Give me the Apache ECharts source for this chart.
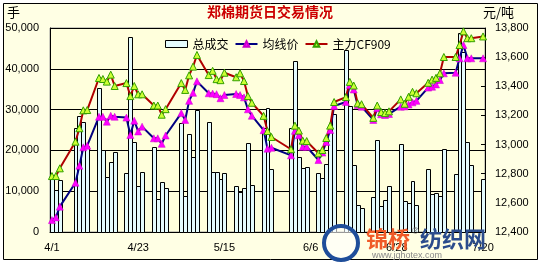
<!DOCTYPE html>
<html><head><meta charset="utf-8">
<script src="https://cdn.jsdelivr.net/npm/echarts@6/dist/echarts.min.js"></script>
<style>html,body{margin:0;padding:0;background:#fff}#c{width:542px;height:264px}</style>
</head><body><div id="c"></div>
<script>
const tradeDates = ['4/1','4/2','4/3','4/7','4/8','4/9','4/10','4/13','4/14','4/15','4/16','4/17','4/20','4/21','4/22','4/23','4/24','4/27','4/28','4/29','4/30',
'5/4','5/5','5/6','5/7','5/8','5/11','5/12','5/13','5/14','5/15','5/18','5/19','5/20','5/21','5/22','5/25','5/26','5/27',
'6/1','6/2','6/3','6/4','6/5','6/8','6/9','6/10','6/11','6/12','6/15','6/16','6/17','6/18','6/19','6/22','6/23','6/24','6/25','6/26','6/29','6/30',
'7/1','7/2','7/3','7/6','7/7','7/8','7/9','7/10','7/13','7/14','7/15','7/16','7/17','7/20'];
const volume = [12900,10300,12700,25600,28500,27000,21000,35200,20200,13600,17200,19700,14400,47800,22100,11300,14600,20800,8200,12300,10700,
26600,8900,23900,18500,29900,26900,14800,14700,12900,14400,11300,9900,10700,21700,11400,25400,30500,15400,
25500,41800,18300,15800,16000,14400,13200,16700,25500,29000,44600,31000,16400,6500,6000,8700,22600,6400,7800,11200,21600,7500,
7000,12500,6500,15400,9300,9500,8800,20300,14200,48800,44000,22000,16500,13000];
const avgPrice = [12482,12500,12574,12738,12855,12981,12992,13191,13191,13157,13198,13191,13185,13066,13164,13090,13123,13043,13043,13005,13062,
13216,13169,13300,13355,13434,13352,13350,13346,13318,13340,13347,13340,13324,13242,13198,13099,12972,12978,
12926,13094,13064,12985,12985,12894,12945,13018,13100,13265,13292,13409,13378,13271,13260,13169,13249,13208,13203,13210,13260,13262,
13275,13290,13300,13391,13397,13413,13443,13489,13493,13592,13683,13592,13592,13592];
const mainPrice = [12784,12784,12837,13020,13112,13235,13237,13457,13450,13432,13480,13402,13422,13333,13402,13345,13345,13268,13268,13205,13243,
13422,13375,13475,13535,13615,13477,13506,13449,13442,13493,13462,13489,13436,13333,13287,13197,13093,13052,
12968,13130,13096,13027,13024,12940,12963,13045,13130,13292,13326,13430,13405,13283,13277,13183,13268,13223,13216,13228,13310,13280,
13328,13362,13352,13424,13446,13458,13489,13601,13601,13683,13777,13730,13730,13742];
const xTickLabels = ['4/1','4/23','5/15','6/6','6/28','7/20'];
const volTicks = [0,50000,10000];
const priceTicks = [12400,13800,200];

// calendar-day category axis (weekends / holidays empty)
const calendar = [];
for (let t = new Date(2009,3,1); t <= new Date(2009,6,20); t.setDate(t.getDate()+1)) {
  calendar.push((t.getMonth()+1) + '/' + t.getDate());
}
function onCalendar(vals){
  const m = {}; tradeDates.forEach((d,i)=>m[d]=vals[i]);
  return calendar.map(d => (d in m) ? m[d] : null);
}
const barData = tradeDates.map((d,i)=>[calendar.indexOf(d), volume[i]]);
const chart = echarts.init(document.getElementById('c'));
const numFont = 'Liberation Sans, Arial, sans-serif';
const cjk = 'Noto Sans CJK SC, sans-serif';
const barFill = '#E4FBFD';
chart.setOption({
  backgroundColor: '#ffffff',
  animation: false,
  graphic: [
    {type:'rect', shape:{x:3.5,y:3.5,width:534,height:256}, style:{fill:'#FFFFE4',stroke:'#000',lineWidth:1}, z:-10},
    {type:'text', left:7, top:6, style:{text:'手', font:'13px '+cjk, fill:'#000'}},
    {type:'text', left:483, top:6, style:{text:'元/吨', font:'13px '+cjk, fill:'#000'}},
    {type:'text', left:207, top:5, style:{text:'郑棉期货日交易情况', font:'bold 14px '+cjk, fill:'#CC0000'}},
    {type:'circle', shape:{cx:341,cy:243,r:17}, style:{fill:'rgba(255,255,255,0.6)',stroke:'#1F4E9A',lineWidth:4}, z:50},
    {type:'text', left:366, top:228, style:{text:'锦桥', font:'bold 22px '+cjk, fill:'#F05A28'}, z:50},
    {type:'text', left:412, top:227, style:{text:'®', font:'9px '+numFont, fill:'#666'}, z:50},
    {type:'text', left:420, top:228, style:{text:'纺织网', font:'bold 22px '+cjk, fill:'#2B4C8C'}, z:50},
    {type:'text', left:372, top:251, style:{text:'www.jqhotex.com', font:'9px '+numFont, fill:'#888'}, z:50}
  ],
  grid: {left:50, right:57, top:28, bottom:32, show:true, backgroundColor:'#FFFFDC', borderColor:'#999', borderWidth:1},
  legend: {
    top:33, left:160, itemWidth:22, itemHeight:7, itemGap:6,
    textStyle:{fontSize:12, fontFamily:cjk, color:'#000'},
    data:[{name:'总成交', icon:'rect', itemStyle:{color:barFill, borderColor:'#000', borderWidth:1}},'均线价','主力CF909']
  },
  xAxis: {
    type:'category', data:calendar, boundaryGap:true,
    axisLine:{lineStyle:{color:'#000'}}, axisTick:{show:false},
    axisLabel:{interval:(i,v)=>xTickLabels.includes(v), formatter:v=>xTickLabels.includes(v)?v:'', color:'#000', fontSize:11, fontFamily:numFont, margin:10}
  },
  yAxis: [
    {type:'value', min:volTicks[0], max:volTicks[1], interval:volTicks[2], position:'left',
     axisLine:{show:true, lineStyle:{color:'#000'}}, axisTick:{show:false},
     axisLabel:{color:'#000', fontSize:11, fontFamily:numFont, margin:11},
     splitLine:{show:true, lineStyle:{color:'#000', width:1}}},
    {type:'value', min:priceTicks[0], max:priceTicks[1], interval:priceTicks[2], position:'right',
     axisLine:{show:true, lineStyle:{color:'#000'}}, axisTick:{show:true, inside:true, length:4, lineStyle:{color:'#000'}},
     axisLabel:{color:'#000', fontSize:11, fontFamily:numFont, margin:10},
     splitLine:{show:false}}
  ],
  series: [
    {name:'总成交', type:'custom', yAxisIndex:0, data:barData, encode:{x:0,y:1},
     itemStyle:{color:barFill, borderColor:'#000'},
     renderItem:(params, api)=>{
       const p = api.coord([api.value(0), api.value(1)]);
       const base = api.coord([api.value(0), 0]);
       const w = api.size([1,0])[0];
       const x0 = Math.round(p[0]-w/2)+0.5, x1 = Math.round(p[0]+w/2)+0.5;
       const yt = Math.round(p[1])+0.5, yb = Math.round(base[1])+0.5;
       return {type:'rect', shape:{x:x0, y:yt, width:x1-x0, height:yb-yt},
               style:{fill:barFill, stroke:'#000', lineWidth:1}};
     }},
    {name:'均线价', type:'line', yAxisIndex:1, data:onCalendar(avgPrice), connectNulls:true,
     symbol:'triangle', symbolSize:7, showAllSymbol:true,
     lineStyle:{color:'#000080', width:2}, itemStyle:{color:'#FF00FF', borderColor:'#CC00CC', borderWidth:0.5}},
    {name:'主力CF909', type:'line', yAxisIndex:1, data:onCalendar(mainPrice), connectNulls:true,
     symbol:'triangle', symbolSize:7, showAllSymbol:true,
     lineStyle:{color:'#B00000', width:2}, itemStyle:{color:'#CCFF33', borderColor:'#33A000', borderWidth:1}}
  ]
});
</script></body></html>
